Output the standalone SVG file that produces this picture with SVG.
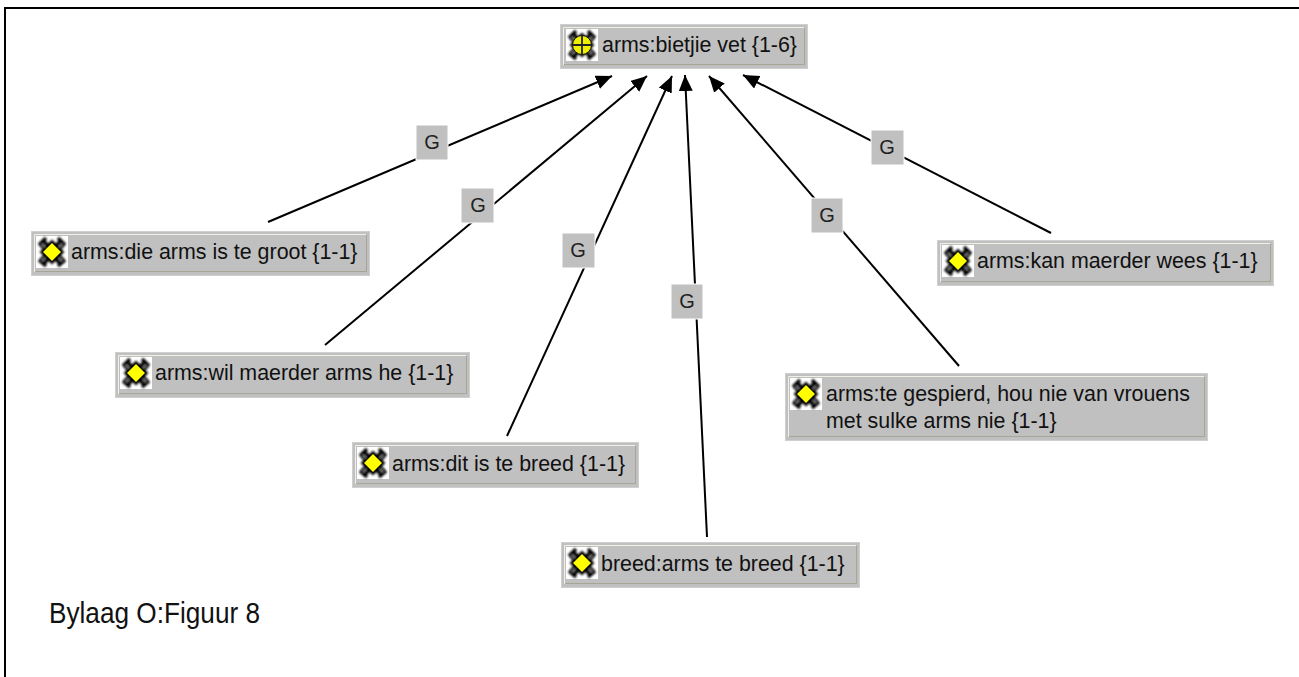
<svg xmlns="http://www.w3.org/2000/svg" width="1299" height="677" viewBox="0 0 1299 677">
<style>
.frame{fill:none;stroke:#000;stroke-width:2}
.box{fill:#c0c0c0;stroke:#cfcfcf;stroke-width:1}
.hi{fill:none;stroke:#f1efe6;stroke-width:1}
.shade{fill:none;stroke:#a8a595;stroke-width:1}
.t{font-family:"Liberation Sans",Arial,sans-serif;font-size:21.4px;fill:#111}
.e{stroke:#000;stroke-width:2;fill:none;marker-end:url(#arrow)}
.lb{fill:#c0c0c0;stroke:#fff;stroke-width:1}
.g{font-family:"Liberation Sans",Arial,sans-serif;font-size:20px;fill:#222;text-anchor:middle}
.cap{font-family:"Liberation Sans",Arial,sans-serif;font-size:29px;fill:#111}
</style>
<defs>
<marker id="arrow" markerUnits="userSpaceOnUse" markerWidth="18" markerHeight="16" refX="16" refY="7" orient="auto"><path d="M0 0L16 7L0 14Z" fill="#000"/></marker>
<filter id="soft" x="-10%" y="-10%" width="120%" height="120%"><feGaussianBlur stdDeviation="0.8"/></filter>
<symbol id="ic" viewBox="0 0 32 32" width="32" height="32" overflow="visible">
<rect width="32" height="32" fill="#fff"/>
<g filter="url(#soft)" stroke="#000" fill="none">
<path d="M6 7L26 26M26 7L6 26" stroke-width="8"/>
<path d="M10 2L3 9M22 2L29 9M3 24L10 30M29 24L22 30" stroke-width="3.5"/>
<path d="M16 5L27 16L16 27L5 16Z" fill="#000" stroke-width="2"/>
<path d="M6 8L9 11M26 8L23 11M6 25L9 22M26 25L23 22" stroke="#999" stroke-width="1.5"/>
</g>
<path d="M16 7L25 16L16 25L7 16Z" fill="#ff0"/>
</symbol>
<symbol id="icx" viewBox="0 0 32 32" width="32" height="32" overflow="visible">
<use href="#ic" width="32" height="32"/>
<circle cx="16" cy="16" r="9.5" fill="#eeee00" stroke="#111"/>
<path d="M16 6.500V25.500M6.500 16H25.500" stroke="#222" stroke-width="1.800"/>
</symbol>
</defs>
<rect width="1299" height="677" fill="#fff"/>
<path class="frame" d="M5 677V8H1299"/>
<g id="connectors">
<line class="e" x1="268" y1="222" x2="612" y2="76"/>
<line class="e" x1="325" y1="345" x2="647" y2="76"/>
<line class="e" x1="507" y1="436" x2="672" y2="76"/>
<line class="e" x1="707" y1="537" x2="685" y2="75"/>
<line class="e" x1="959" y1="366" x2="709" y2="76"/>
<line class="e" x1="1051" y1="233" x2="743" y2="75"/>
</g>
<g id="edge-labels">
<g id="label-1"><rect class="lb" x="416" y="125" width="32" height="35"/><text class="g" x="432" y="149">G</text></g>
<g id="label-2"><rect class="lb" x="461" y="188" width="33" height="35"/><text class="g" x="478" y="212">G</text></g>
<g id="label-3"><rect class="lb" x="562" y="233" width="33" height="35"/><text class="g" x="578" y="257">G</text></g>
<g id="label-4"><rect class="lb" x="671" y="284" width="32" height="35"/><text class="g" x="687" y="308">G</text></g>
<g id="label-5"><rect class="lb" x="811" y="198" width="32" height="35"/><text class="g" x="827" y="222">G</text></g>
<g id="label-6"><rect class="lb" x="871" y="130" width="33" height="35"/><text class="g" x="887" y="154">G</text></g>
</g>
<g id="node-top"><rect class="box" x="560.5" y="24.5" width="247" height="44"/><path class="hi" d="M563.5 65V27.5H804"/><path class="shade" d="M564 64.500H804.500V28"/><use href="#icx" x="566" y="29"/><text class="t" x="602" y="52">arms:bietjie vet {1-6}</text></g>
<g id="node-groot"><rect class="box" x="31.5" y="231.5" width="338" height="44"/><path class="hi" d="M34.5 272V234.5H366"/><path class="shade" d="M35 271.500H366.500V235"/><use href="#ic" x="36" y="236"/><text class="t" x="71" y="259">arms:die arms is te groot {1-1}</text></g>
<g id="node-maerder"><rect class="box" x="115.5" y="352.5" width="354" height="45"/><path class="hi" d="M118.5 394V355.5H466"/><path class="shade" d="M119 393.500H466.500V356"/><use href="#ic" x="120" y="357"/><text class="t" x="155" y="380">arms:wil maerder arms he {1-1}</text></g>
<g id="node-dit"><rect class="box" x="352.5" y="442.5" width="286" height="45"/><path class="hi" d="M355.5 484V445.5H635"/><path class="shade" d="M356 483.500H635.500V446"/><use href="#ic" x="357" y="447"/><text class="t" x="392" y="471">arms:dit is te breed {1-1}</text></g>
<g id="node-breed"><rect class="box" x="561.5" y="542.5" width="298" height="45"/><path class="hi" d="M564.5 584V545.5H856"/><path class="shade" d="M565 583.500H856.500V546"/><use href="#ic" x="566" y="547"/><text class="t" x="601" y="571">breed:arms te breed {1-1}</text></g>
<g id="node-gespierd"><rect class="box" x="785.5" y="373.5" width="422" height="67"/><path class="hi" d="M788.5 437V376.5H1204"/><path class="shade" d="M789 436.500H1204.500V377"/><use href="#ic" x="790" y="378"/><text class="t" x="826" y="401">arms:te gespierd, hou nie van vrouens</text><text class="t" x="826" y="428">met sulke arms nie {1-1}</text></g>
<g id="node-kan"><rect class="box" x="937.5" y="240.5" width="336" height="45"/><path class="hi" d="M940.5 282V243.5H1270"/><path class="shade" d="M941 281.500H1270.500V244"/><use href="#ic" x="942" y="245"/><text class="t" x="977" y="268">arms:kan maerder wees {1-1}</text></g>
<text class="cap" x="49" y="623" textLength="211" lengthAdjust="spacingAndGlyphs">Bylaag O:Figuur 8</text>
</svg>
